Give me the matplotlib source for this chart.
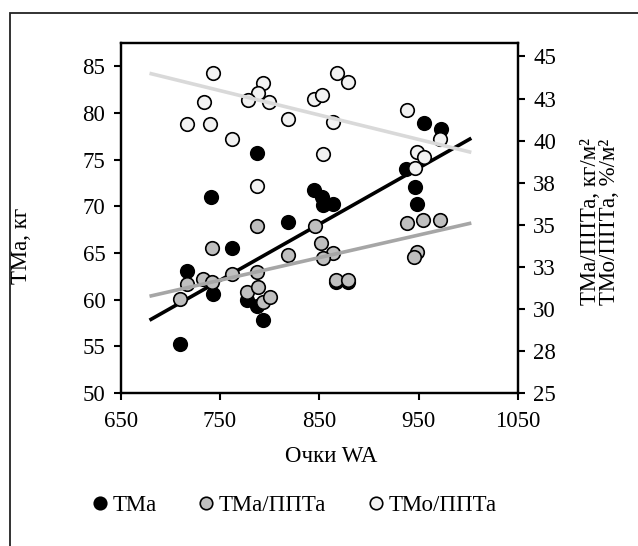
import matplotlib
matplotlib.use("Agg")
import matplotlib.pyplot as plt
from matplotlib.lines import Line2D
from matplotlib.patches import Rectangle

plt.rcParams["font.family"] = ["Liberation Serif", "DejaVu Serif"]

# --- data --------------------------------------------------------------
# TMa, kg (left axis)
tma_x = [709.7, 716.4, 740.6, 743.2, 762.4, 776.9, 786.9, 786.9, 793.0, 818.4, 844.6,
         852.4, 854.0, 864.0, 937.2, 946.3, 948.6, 955.4, 972.5, 866.8, 878.8]
tma_y = [55.3, 63.1, 71.0, 60.6, 65.5, 60.0, 59.3, 75.7, 57.8, 68.3, 71.7,
         71.0, 70.1, 70.3, 74.0, 72.1, 70.2, 78.9, 78.3, 61.9, 61.9]

# TMa/PPTa, kg/m2 (right axis)
tma_bsa_x = [709.7, 716.4, 733.2, 741.6, 742.2, 762.4, 776.9, 786.9, 787.9, 793.0, 800.3, 786.9,
             818.7, 845.6, 851.7, 864.0, 853.4, 866.8, 879.2, 937.9, 954.7, 971.5, 948.0, 945.6]
tma_bsa_y = [30.6, 31.5, 31.8, 33.6, 31.6, 32.1, 31.0, 32.2, 31.3, 30.4, 30.7, 34.9,
             33.2, 34.9, 33.9, 33.3, 33.0, 31.7, 31.7, 35.1, 35.3, 35.3, 33.4, 33.1]

# TMo/PPTa, %/m2 (right axis)
tmo_bsa_x = [717.1, 733.9, 743.2, 739.9, 762.4, 786.9, 793.6, 788.5, 777.9, 799.6, 818.4,
             844.9, 853.0, 867.5, 879.2, 864.0, 854.0, 937.9, 971.5, 948.6, 955.4, 946.8]
tmo_bsa_y = [41.0, 42.3, 44.0, 41.0, 40.1, 37.3, 43.4, 42.8, 42.4, 42.3, 41.3,
             42.5, 42.7, 44.0, 43.5, 41.1, 39.2, 41.8, 40.1, 39.3, 39.0, 38.4]

# linear trendlines as drawn in the reference (start / end)
trend_x = [679, 1003]
tma_trend = [57.8, 77.3]
tma_bsa_trend = [30.75, 35.1]
tmo_bsa_trend = [44.0, 39.3]

x_ticks = [650, 750, 850, 950, 1050]
left_ticks = [50, 55, 60, 65, 70, 75, 80, 85]
right_ticks = [25, 27.5, 30, 32.5, 35, 37.5, 40, 42.5, 45]
right_labels = ["25", "28", "30", "33", "35", "38", "40", "43", "45"]

C_GRAY = "#bfbfbf"
C_WHITE = "#f2f2f2"
FS = 16.5

fig = plt.figure(figsize=(6.38, 5.46), dpi=100)

# outer chart-area border (only left and top edges fall inside the image)
fig.patches.append(Rectangle((10 / 638, -0.1), 1.2, 1 - 13 / 546 + 0.1,
                             transform=fig.transFigure, fill=False,
                             edgecolor="#222222", lw=1.3))

ax = fig.add_axes([120.7 / 638, 1 - 393 / 546, (518 - 120.7) / 638, (393 - 43) / 546])
ax2 = ax.twinx()

ax.scatter(tma_x, tma_y, s=95, c="black", edgecolors="black", linewidths=1.2, zorder=3)
ax.plot(trend_x, tma_trend, color="black", lw=2.6, solid_capstyle="butt", zorder=4)

ax2.scatter(tma_bsa_x, tma_bsa_y, s=95, c=C_GRAY, edgecolors="black", linewidths=1.2, zorder=3)
ax2.scatter(tmo_bsa_x, tmo_bsa_y, s=95, c=C_WHITE, edgecolors="black", linewidths=1.2, zorder=3)
ax2.plot(trend_x, tma_bsa_trend, color="#a6a6a6", lw=2.6, solid_capstyle="butt", zorder=4)
ax2.plot(trend_x, tmo_bsa_trend, color="#d9d9d9", lw=2.6, solid_capstyle="butt", zorder=4)

ax.set_xlim(650, 1050)
ax.set_ylim(50, 87.5)
ax2.set_ylim(25, 45.8)
ax.set_xticks(x_ticks)
ax.set_yticks(left_ticks)
ax2.set_yticks(right_ticks)
ax2.set_yticklabels(right_labels)

for a in (ax, ax2):
    for sp in a.spines.values():
        sp.set_linewidth(1.6)
    a.tick_params(direction="out", length=5, width=1.5, labelsize=FS, pad=6)
ax.tick_params(axis="x", pad=8)

ax.set_xlabel("Очки WA", fontsize=FS)
ax.xaxis.set_label_coords(0.53, -0.15)
ax.set_ylabel("ТМа, кг", fontsize=FS)
ax.yaxis.set_label_coords(-0.222, 0.42)
ax2.set_ylabel("ТМа/ППТа, кг/м²\nТМо/ППТа, %/м²", fontsize=FS, linespacing=0.9)
ax2.yaxis.set_label_coords(1.155, 0.49)

handles = [
    Line2D([], [], ls="none", marker="o", ms=9, mfc="black", mec="black", mew=1.2),
    Line2D([], [], ls="none", marker="o", ms=9, mfc=C_GRAY, mec="black", mew=1.2),
    Line2D([], [], ls="none", marker="o", ms=9, mfc=C_WHITE, mec="black", mew=1.2),
]
fig.legend(handles, ["ТМа", "ТМа/ППТа", "ТМо/ППТа"], loc="center",
           bbox_to_anchor=(292 / 638, 1 - 505 / 546), ncol=3, frameon=False,
           fontsize=FS, handletextpad=0.0, columnspacing=1.6, handlelength=1.1)

fig.savefig("out.png", dpi=100)
